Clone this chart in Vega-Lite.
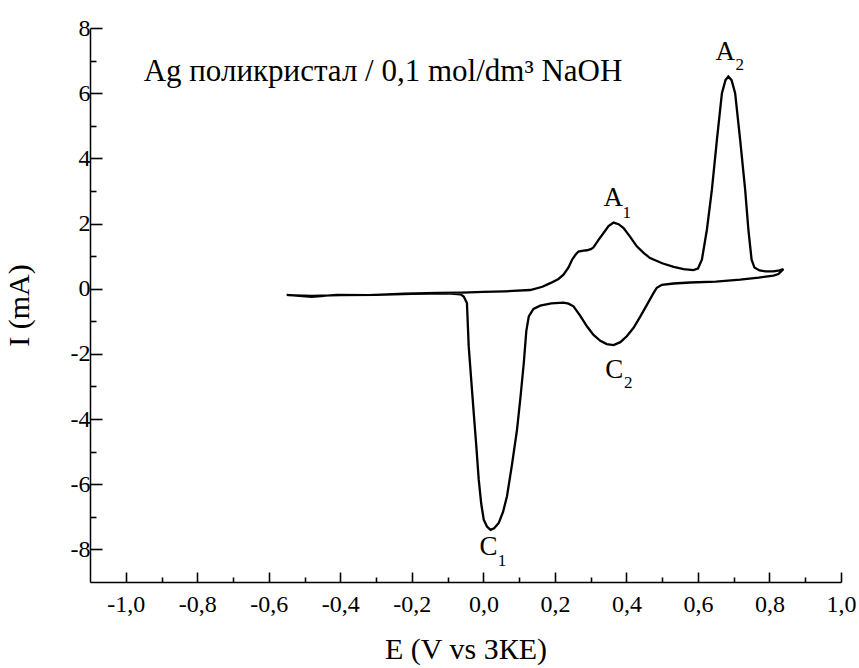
{
  "$schema": "https://vega.github.io/schema/vega-lite/v6.json",
  "width": 751,
  "height": 554,
  "autosize": {"type": "none"},
  "padding": {"left": 90, "top": 28, "right": 18, "bottom": 86},
  "background": "white",
  "config": {
    "view": {"stroke": null},
    "font": "Liberation Serif, Times New Roman, DejaVu Serif, serif",
    "text": {"font": "Liberation Serif, Times New Roman, DejaVu Serif, serif"},
    "axis": {"grid": false, "domainColor": "black", "domainWidth": 1.5, "tickColor": "black", "tickWidth": 1.6, "labelColor": "black", "titleColor": "black", "labelFont": "Liberation Serif, Times New Roman, DejaVu Serif, serif", "titleFont": "Liberation Serif, Times New Roman, DejaVu Serif, serif", "labelFontSize": 24, "titleFontSize": 30, "titleFontWeight": "normal"}
  },
  "datasets": {
    "cv": [
      {"i": 1, "E": -0.55, "I": -0.19},
      {"i": 2, "E": -0.48, "I": -0.25},
      {"i": 3, "E": -0.41, "I": -0.19},
      {"i": 4, "E": -0.32, "I": -0.2},
      {"i": 5, "E": -0.22, "I": -0.15},
      {"i": 6, "E": -0.13, "I": -0.13},
      {"i": 7, "E": -0.06, "I": -0.12},
      {"i": 8, "E": 0.0, "I": -0.1},
      {"i": 9, "E": 0.06, "I": -0.08},
      {"i": 10, "E": 0.131, "I": -0.04},
      {"i": 11, "E": 0.165, "I": 0.06},
      {"i": 12, "E": 0.187, "I": 0.17},
      {"i": 13, "E": 0.21, "I": 0.3},
      {"i": 14, "E": 0.224, "I": 0.43},
      {"i": 15, "E": 0.238, "I": 0.65},
      {"i": 16, "E": 0.248, "I": 0.89},
      {"i": 17, "E": 0.258, "I": 1.05},
      {"i": 18, "E": 0.266, "I": 1.14},
      {"i": 19, "E": 0.28, "I": 1.17},
      {"i": 20, "E": 0.29, "I": 1.18},
      {"i": 21, "E": 0.302, "I": 1.22},
      {"i": 22, "E": 0.308, "I": 1.27},
      {"i": 23, "E": 0.322, "I": 1.5},
      {"i": 24, "E": 0.336, "I": 1.71},
      {"i": 25, "E": 0.35, "I": 1.92},
      {"i": 26, "E": 0.364, "I": 2.03},
      {"i": 27, "E": 0.378, "I": 1.98},
      {"i": 28, "E": 0.392, "I": 1.86},
      {"i": 29, "E": 0.41, "I": 1.6},
      {"i": 30, "E": 0.429, "I": 1.3},
      {"i": 31, "E": 0.448, "I": 1.1},
      {"i": 32, "E": 0.466, "I": 0.94},
      {"i": 33, "E": 0.5, "I": 0.78},
      {"i": 34, "E": 0.532, "I": 0.67},
      {"i": 35, "E": 0.56, "I": 0.6},
      {"i": 36, "E": 0.587, "I": 0.57},
      {"i": 37, "E": 0.6, "I": 0.62},
      {"i": 38, "E": 0.611, "I": 0.89},
      {"i": 39, "E": 0.625, "I": 1.81},
      {"i": 40, "E": 0.639, "I": 3.04},
      {"i": 41, "E": 0.653, "I": 4.57},
      {"i": 42, "E": 0.667, "I": 6.0},
      {"i": 43, "E": 0.677, "I": 6.4},
      {"i": 44, "E": 0.685, "I": 6.51},
      {"i": 45, "E": 0.694, "I": 6.4},
      {"i": 46, "E": 0.704, "I": 6.0},
      {"i": 47, "E": 0.718, "I": 4.57},
      {"i": 48, "E": 0.732, "I": 3.04},
      {"i": 49, "E": 0.741, "I": 1.81},
      {"i": 50, "E": 0.75, "I": 0.89},
      {"i": 51, "E": 0.758, "I": 0.65},
      {"i": 52, "E": 0.772, "I": 0.56},
      {"i": 53, "E": 0.79, "I": 0.53},
      {"i": 54, "E": 0.811, "I": 0.53},
      {"i": 55, "E": 0.828, "I": 0.56},
      {"i": 56, "E": 0.839, "I": 0.6},
      {"i": 57, "E": 0.825, "I": 0.45},
      {"i": 58, "E": 0.811, "I": 0.4},
      {"i": 59, "E": 0.77, "I": 0.34},
      {"i": 60, "E": 0.718, "I": 0.28},
      {"i": 61, "E": 0.65, "I": 0.22},
      {"i": 62, "E": 0.578, "I": 0.19},
      {"i": 63, "E": 0.532, "I": 0.16},
      {"i": 64, "E": 0.499, "I": 0.12},
      {"i": 65, "E": 0.485, "I": 0.03},
      {"i": 66, "E": 0.476, "I": -0.13},
      {"i": 67, "E": 0.458, "I": -0.48},
      {"i": 68, "E": 0.439, "I": -0.85},
      {"i": 69, "E": 0.42, "I": -1.2},
      {"i": 70, "E": 0.401, "I": -1.46},
      {"i": 71, "E": 0.383, "I": -1.64},
      {"i": 72, "E": 0.364, "I": -1.73},
      {"i": 73, "E": 0.345, "I": -1.7},
      {"i": 74, "E": 0.327, "I": -1.6},
      {"i": 75, "E": 0.308, "I": -1.42},
      {"i": 76, "E": 0.29, "I": -1.16},
      {"i": 77, "E": 0.27, "I": -0.82},
      {"i": 78, "E": 0.252, "I": -0.54},
      {"i": 79, "E": 0.238, "I": -0.46},
      {"i": 80, "E": 0.224, "I": -0.43},
      {"i": 81, "E": 0.19, "I": -0.45},
      {"i": 82, "E": 0.159, "I": -0.52},
      {"i": 83, "E": 0.14, "I": -0.62},
      {"i": 84, "E": 0.127, "I": -0.85},
      {"i": 85, "E": 0.12, "I": -1.3},
      {"i": 86, "E": 0.113, "I": -2.28},
      {"i": 87, "E": 0.104, "I": -3.3},
      {"i": 88, "E": 0.094, "I": -4.33},
      {"i": 89, "E": 0.08, "I": -5.4},
      {"i": 90, "E": 0.066, "I": -6.37},
      {"i": 91, "E": 0.055, "I": -6.85},
      {"i": 92, "E": 0.043, "I": -7.19},
      {"i": 93, "E": 0.03, "I": -7.35},
      {"i": 94, "E": 0.02, "I": -7.4},
      {"i": 95, "E": 0.01, "I": -7.3},
      {"i": 96, "E": 0.001, "I": -7.09},
      {"i": 97, "E": -0.006, "I": -6.6},
      {"i": 98, "E": -0.013, "I": -5.86},
      {"i": 99, "E": -0.02, "I": -4.8},
      {"i": 100, "E": -0.027, "I": -3.81},
      {"i": 101, "E": -0.034, "I": -2.8},
      {"i": 102, "E": -0.041, "I": -1.77},
      {"i": 103, "E": -0.046, "I": -0.44},
      {"i": 104, "E": -0.055, "I": -0.24},
      {"i": 105, "E": -0.064, "I": -0.17},
      {"i": 106, "E": -0.1, "I": -0.14},
      {"i": 107, "E": -0.2, "I": -0.16},
      {"i": 108, "E": -0.3, "I": -0.19},
      {"i": 109, "E": -0.4, "I": -0.2},
      {"i": 110, "E": -0.48, "I": -0.22},
      {"i": 111, "E": -0.55, "I": -0.2}
    ],
    "letters": [
      {"E": 0.676, "I": 7.27, "t": "A"},
      {"E": 0.363, "I": 2.79, "t": "A"},
      {"E": 0.366, "I": -2.48, "t": "C"},
      {"E": 0.014, "I": -7.94, "t": "C"}
    ],
    "subs": [
      {"E": 0.717, "I": 6.85, "t": "2"},
      {"E": 0.401, "I": 2.33, "t": "1"},
      {"E": 0.405, "I": -2.9, "t": "2"},
      {"E": 0.052, "I": -8.36, "t": "1"}
    ],
    "note": [
      {"E": -0.95, "I": 6.66, "t": "Ag поликристал / 0,1 mol/dm³ NaOH"}
    ]
  },
  "resolve": {"axis": {"x": "independent", "y": "independent"}},
  "layer": [
    {
      "data": {"name": "cv"},
      "mark": {"type": "line", "color": "black", "strokeWidth": 2.3, "interpolate": "linear"},
      "encoding": {
        "x": {
          "field": "E", "type": "quantitative",
          "scale": {"domain": [-1.1, 1.0], "nice": false, "zero": false},
          "axis": {
            "orient": "bottom",
            "title": "E (V vs ЗКЕ)",
            "values": [-1.0, -0.8, -0.6, -0.4, -0.2, 0.0, 0.2, 0.4, 0.6, 0.8, 1.0],
            "labelExpr": "replace(replace(format(datum.value, '.1f'), '.', ','), '\u2212', '-')",
            "tickSize": -10,
            "labelPadding": 20,
            "titlePadding": 18,
            "labelFlush": false,
            "labelOverlap": false
          }
        },
        "y": {
          "field": "I", "type": "quantitative",
          "scale": {"domain": [-9, 8], "nice": false, "zero": false},
          "axis": {
            "orient": "left",
            "title": "I (mA)",
            "values": [-8, -6, -4, -2, 0, 2, 4, 6, 8],
            "labelExpr": "replace(format(datum.value, 'd'), '\u2212', '-')",
            "tickSize": -12,
            "labelPadding": 12,
            "titlePadding": 36,
            "labelFlush": false,
            "labelOverlap": false
          }
        },
        "order": {"field": "i", "type": "quantitative"}
      }
    },
    {
      "data": {"name": "cv"},
      "mark": {"type": "line", "strokeOpacity": 0},
      "encoding": {
        "x": {
          "field": "E", "type": "quantitative",
          "axis": {
            "orient": "bottom",
            "title": null,
            "values": [-0.9, -0.7, -0.5, -0.3, -0.1, 0.1, 0.3, 0.5, 0.7, 0.9],
            "labels": false,
            "domain": false,
            "tickSize": -5
          }
        },
        "y": {
          "field": "I", "type": "quantitative",
          "axis": {
            "orient": "left",
            "title": null,
            "values": [-7, -5, -3, -1, 1, 3, 5, 7],
            "labels": false,
            "domain": false,
            "tickSize": -6
          }
        },
        "order": {"field": "i", "type": "quantitative"}
      }
    },
    {
      "data": {"name": "letters"},
      "mark": {"type": "text", "fontSize": 27, "color": "black", "align": "center", "baseline": "middle"},
      "encoding": {
        "x": {"field": "E", "type": "quantitative", "axis": null},
        "y": {"field": "I", "type": "quantitative", "axis": null},
        "text": {"field": "t"}
      }
    },
    {
      "data": {"name": "subs"},
      "mark": {"type": "text", "fontSize": 17, "color": "black", "align": "center", "baseline": "middle"},
      "encoding": {
        "x": {"field": "E", "type": "quantitative", "axis": null},
        "y": {"field": "I", "type": "quantitative", "axis": null},
        "text": {"field": "t"}
      }
    },
    {
      "data": {"name": "note"},
      "mark": {"type": "text", "fontSize": 31, "color": "black", "align": "left", "baseline": "middle"},
      "encoding": {
        "x": {"field": "E", "type": "quantitative", "axis": null},
        "y": {"field": "I", "type": "quantitative", "axis": null},
        "text": {"field": "t"}
      }
    }
  ]
}
